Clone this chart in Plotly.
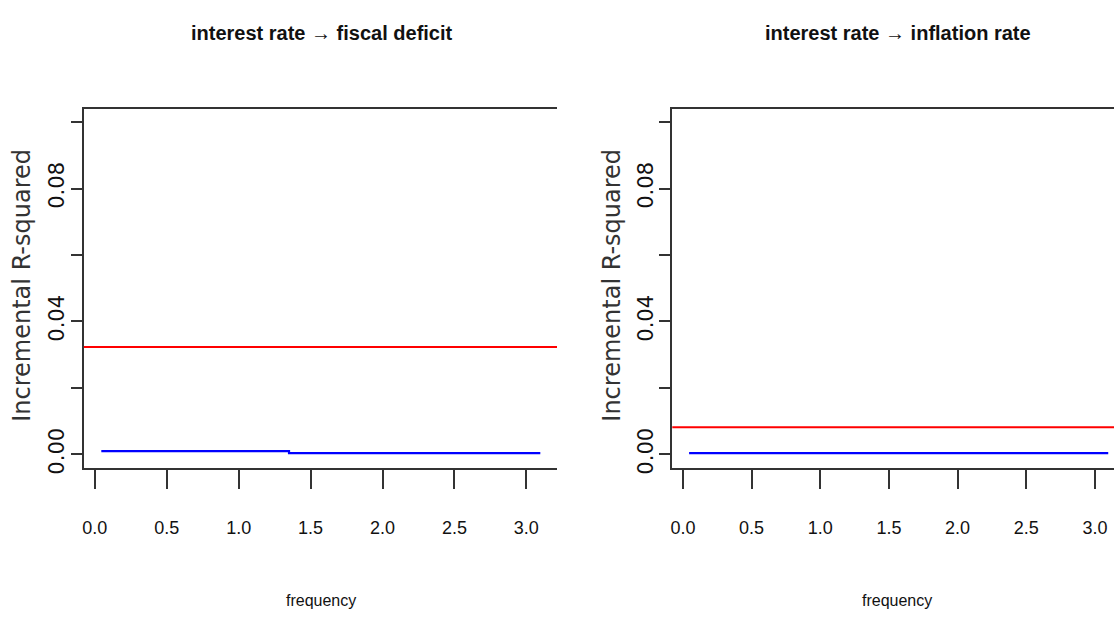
import plotly.graph_objects as go

# Incremental R-squared by frequency for two causal directions
freq_fiscal = [0.045, 1.35, 1.35, 3.097]
rsq_fiscal = [0.0010, 0.0010, 0.0004, 0.0004]
threshold_fiscal = 0.0323

freq_inflation = [0.045, 3.097]
rsq_inflation = [0.0004, 0.0004]
threshold_inflation = 0.0082

titles = ["interest rate \u2192 fiscal deficit", "interest rate \u2192 inflation rate"]
x_ticks = [0.0, 0.5, 1.0, 1.5, 2.0, 2.5, 3.0]
x_tick_text = ["0.0", "0.5", "1.0", "1.5", "2.0", "2.5", "3.0"]
y_ticks = [0.00, 0.02, 0.04, 0.06, 0.08, 0.10]
y_tick_text = ["0.00", "", "0.04", "", "0.08", ""]

W, H = 1114, 624
SANS = "Liberation Sans, Arial, sans-serif"
WIDE = "DejaVu Sans, sans-serif"
AXIS_COL = "#333333"

fig = go.Figure()

fig.add_trace(go.Scatter(x=freq_fiscal, y=rsq_fiscal, mode="lines",
                         line=dict(color="#0000ff", width=2.2),
                         xaxis="x", yaxis="y", showlegend=False))
fig.add_trace(go.Scatter(x=freq_inflation, y=rsq_inflation, mode="lines",
                         line=dict(color="#0000ff", width=2.2),
                         xaxis="x2", yaxis="y2", showlegend=False))

for xr, yr, val in [("x domain", "y", threshold_fiscal), ("x2 domain", "y2", threshold_inflation)]:
    fig.add_shape(type="line", xref=xr, yref=yr, x0=0, x1=1, y0=val, y1=val,
                  line=dict(color="#ff0000", width=2))

y_dom = [(H - 473) / H, (H - 110) / H]

xaxis_common = dict(
    tickvals=x_ticks, ticktext=x_tick_text, ticks="outside", ticklen=19,
    tickwidth=1.5, tickcolor=AXIS_COL, showline=True, linecolor=AXIS_COL,
    linewidth=2, mirror=True, showgrid=False, zeroline=False,
    tickfont=dict(family=SANS, size=18, color="#111111"),
    ticklabelstandoff=24,
)
yaxis_common = dict(
    range=[-0.004, 0.104], tickvals=y_ticks, ticktext=y_tick_text,
    ticks="outside", ticklen=11, tickwidth=1.5, tickcolor=AXIS_COL,
    showline=True, linecolor=AXIS_COL, linewidth=2, showgrid=False,
    zeroline=False, tickangle=-90, domain=y_dom,
    tickfont=dict(family=WIDE, size=21, color="#111111"),
    ticklabelstandoff=-2,
)

fig.update_layout(
    width=W, height=H, margin=dict(l=0, r=0, t=0, b=0),
    paper_bgcolor="white", plot_bgcolor="white",
    xaxis=dict(domain=[82 / W, 556 / W], range=[-0.0763, 3.213], anchor="y", **xaxis_common),
    yaxis=dict(anchor="x", **yaxis_common),
    xaxis2=dict(domain=[671.5 / W, 1.0], range=[-0.0773, 3.139], anchor="y2", **xaxis_common),
    yaxis2=dict(anchor="x2", **yaxis_common),
)

# Panel titles and axis titles
for cx, title in [(321, titles[0]), (898, titles[1])]:
    fig.add_annotation(text="<b>" + title + "</b>", x=cx / W, y=(H - 33) / H,
                       xref="paper", yref="paper", xanchor="center", yanchor="middle",
                       showarrow=False, font=dict(family=SANS, size=20, color="#111111"))
    fig.add_annotation(text="frequency", x=(cx - 1) / W, y=(H - 607) / H,
                       xref="paper", yref="paper", xanchor="center", yanchor="middle",
                       showarrow=False, font=dict(family=SANS, size=16, color="#111111"))

for cx in [20, 611]:
    fig.add_annotation(text="Incremental R-squared", x=cx / W, y=(H - 288) / H,
                       xref="paper", yref="paper", xanchor="center", yanchor="middle",
                       showarrow=False, textangle=-90,
                       font=dict(family=WIDE, size=24, color="#333333"))

fig.write_html("out.html")
